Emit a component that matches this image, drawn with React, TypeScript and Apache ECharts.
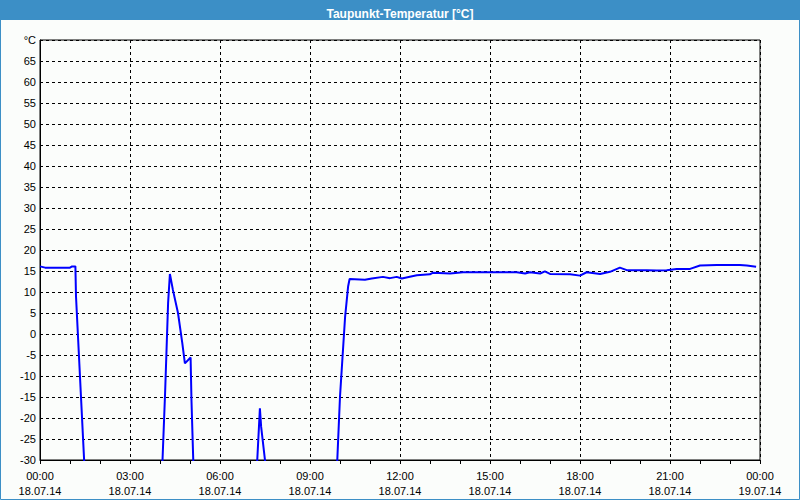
import React, { useEffect, useRef } from "react";
import * as echarts from "echarts";

// Time in hours since 18.07.14 00:00
const hours: number[] = [
  0, 0.17, 1.0, 1.07, 1.18, 1.2, 1.54,
  4.03, 4.17, 4.27, 4.33, 4.43, 4.6, 4.74, 4.83, 5.02, 5.05, 5.15,
  7.17, 7.33, 7.37, 7.66,
  9.85, 10.0, 10.17, 10.27, 10.32, 10.83, 11.06, 11.43, 11.67, 11.89, 12.06,
  12.56, 13.0, 13.1, 13.67, 14.1, 15.89, 16.17, 16.33, 16.67, 16.83, 17.0,
  17.67, 18.0, 18.22, 18.67, 19.0, 19.33, 19.56, 20.22, 20.56, 20.89, 21.22,
  21.67, 22.0, 22.56, 23.33, 23.56, 23.87,
];
const dewPoint: number[] = [
  16.1, 15.8, 15.8, 16.1, 16.1, 9, -40,
  -40, -14, 7.4, 14.3, 10.5, 5, -2, -7, -5.6, -16, -40,
  -40, -17.7, -22, -40,
  -40, -14.9, 4.1, 11.3, 13.1, 12.9, 13.2, 13.6, 13.3, 13.6, 13.2,
  14.0, 14.2, 14.6, 14.4, 14.7, 14.7, 14.4, 14.7, 14.4, 14.9, 14.3,
  14.2, 13.9, 14.7, 14.3, 14.8, 15.8, 15.2, 15.2, 15.1, 15.2, 15.5,
  15.5, 16.3, 16.4, 16.4, 16.3, 16.0,
];
const titleText = "Taupunkt-Temperatur [°C]";
const dayLabels = ["18.07.14", "19.07.14"];

const pad = (n: number) => (n < 10 ? "0" + n : "" + n);

export default function App() {
  const ref = useRef<HTMLDivElement>(null);
  useEffect(() => {
    if (!ref.current) return;
    const chart = echarts.init(ref.current, undefined, { renderer: "svg" });
    const font = "Liberation Sans, Arial, sans-serif";
    chart.setOption({
      animation: false,
      backgroundColor: "#fbfdfb",
      title: {
        text: titleText,
        left: "center",
        top: 3,
        textStyle: { color: "#ffffff", fontSize: 12, fontWeight: "bold", fontFamily: font },
        z: 10,
      },
      graphic: [
        { type: "rect", shape: { x: 0, y: 0, width: 800, height: 20 }, style: { fill: "#3c8fc6" }, z: -1 },
        { type: "rect", shape: { x: 0.5, y: 0.5, width: 799, height: 499 }, style: { fill: "none", stroke: "#3c8fc6", lineWidth: 1 }, z: 100 },
      ],
      grid: {
        left: 40,
        right: 40,
        top: 40,
        bottom: 40,
        show: true,
        borderColor: "#000",
        borderWidth: 1,
        backgroundColor: "#fbfdfb",
      },
      xAxis: {
        type: "value",
        min: 0,
        max: 24,
        interval: 3,
        axisLine: { show: true, onZero: false, lineStyle: { color: "#000", width: 1 } },
        axisTick: { show: true, length: 4, lineStyle: { color: "#000" } },
        minorTick: { show: true, splitNumber: 3, length: 4, lineStyle: { color: "#000" } },
        splitLine: { show: true, lineStyle: { color: "#000", type: [3, 3], width: 1 } },
        axisLabel: {
          showMinLabel: true,
          showMaxLabel: true,
          margin: 8,
          color: "#000",
          fontSize: 11,
          fontFamily: font,
          lineHeight: 15,
          formatter: (v: number) => `${pad(v % 24)}:00\n${v < 24 ? dayLabels[0] : dayLabels[1]}`,
        },
      },
      yAxis: {
        type: "value",
        min: -30,
        max: 70,
        interval: 5,
        axisLine: { show: true, onZero: false, lineStyle: { color: "#000", width: 1 } },
        axisTick: { show: false },
        splitLine: { show: true, lineStyle: { color: "#000", type: [3, 3], width: 1 } },
        axisLabel: {
          showMinLabel: true,
          showMaxLabel: true,
          margin: 4,
          color: "#000",
          fontSize: 11,
          fontFamily: font,
          formatter: (v: number) => (v === 70 ? "°C" : String(v)),
        },
      },
      series: [
        {
          type: "line",
          data: hours.map((h, i) => [h, dewPoint[i]]),
          showSymbol: false,
          clip: true,
          lineStyle: { color: "#0000ff", width: 2 },
        },
      ],
    });
    return () => chart.dispose();
  }, []);
  return (
    <div
      ref={ref}
      style={{ position: "absolute", left: 0, top: 0, width: 800, height: 500 }}
    />
  );
}
